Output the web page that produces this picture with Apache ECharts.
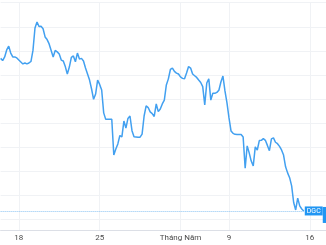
<!DOCTYPE html>
<html>
<head>
<meta charset="utf-8">
<script src="https://cdn.jsdelivr.net/npm/echarts@6/dist/echarts.min.js"></script>
<style>html,body{margin:0;padding:0;background:#fff;}#c{width:326px;height:245px;}</style>
</head>
<body>
<div id="c"></div>
<script>
const tradingDays = ['14/4','15/4','18/4','19/4','20/4','21/4','22/4','25/4','26/4','27/4','28/4','29/4','4/5','5/5','6/5','9/5','10/5','11/5','12/5','13/5','16/5','17/5'];
const slotTimes = ['09:00','09:30','10:00','10:30','11:00','13:00','13:30','14:00'];
const tickDays = ['18/4','25/4','4/5','9/5','16/5'];
const tickLabels = ['18','25','Tháng Năm','9','16'];
const symbolName = 'DGC';
const prices = [
216.9,216.0,217.5,220.4,222.0,219.1,217.5,217.5,217.1,216.2,
215.4,214.6,215.0,214.6,215.0,215.6,220.2,229.5,232.0,230.1,
230.2,229.2,225.8,224.7,222.9,220.2,217.5,220.2,219.6,218.7,
216.2,215.8,213.5,210.4,213.3,217.3,217.9,215.5,219.1,216.6,
216.9,215.8,212.9,210.4,207.9,204.2,199.9,202.1,207.9,206.1,
203.8,194.3,191.6,191.6,191.6,191.6,176.8,179.3,181.4,184.9,
184.3,190.9,188.0,192.0,193.0,186.9,184.4,184.3,184.2,184.2,
185.5,193.0,197.2,196.5,194.7,194.0,192.8,198.0,194.8,195.9,
198.0,199.6,205.9,208.4,212.3,212.9,211.5,210.8,210.4,209.2,
208.6,208.4,210.8,213.5,212.9,210.4,209.7,209.0,207.9,206.9,
205.2,197.6,206.7,208.4,199.6,202.4,202.4,202.8,203.7,207.1,
209.6,203.4,198.4,192.2,186.8,185.8,185.4,185.3,185.3,185.3,
184.3,171.3,180.6,177.7,174.3,172.3,180.2,178.9,182.8,182.9,
183.6,182.9,180.8,178.6,183.5,183.9,182.1,181.5,180.4,178.9,
176.8,171.9,169.4,167.4,164.0,157.1,154.0,158.9,155.7,154.4,
153.6
];

const allSlots = [];
tradingDays.forEach(d => slotTimes.forEach(t => allSlots.push(d + ' ' + t)));
const categories = allSlots.slice(7, 7 + 162);
const lastIdx = prices.length - 1;
const lastVal = prices[lastIdx];

const isTick = (idx, value) => {
  const parts = String(value).split(' ');
  return parts[1] === slotTimes[0] && tickDays.indexOf(parts[0]) >= 0;
};

const chart = echarts.init(document.getElementById('c'), null, {renderer: 'canvas'});
chart.setOption({
  animation: false,
  backgroundColor: '#ffffff',
  grid: {left: 0.63, right: 0, top: 2.7, bottom: 15, containLabel: false},
  xAxis: {
    type: 'category',
    data: categories,
    boundaryGap: false,
    axisLine: {show: true, lineStyle: {color: '#dcdfe6', width: 1}},
    axisTick: {show: false},
    axisLabel: {
      interval: isTick,
      formatter: v => tickLabels[tickDays.indexOf(String(v).split(' ')[0])],
      color: '#4a4a4a', fontSize: 8, fontFamily: 'Roboto', margin: 4
    },
    splitLine: {show: true, interval: isTick, lineStyle: {color: '#f0f2f5', width: 1}}
  },
  yAxis: {
    type: 'value',
    position: 'right',
    min: 145.7, max: 240,
    minInterval: 10, maxInterval: 10,
    axisLine: {show: false}, axisTick: {show: false}, axisLabel: {show: false},
    splitLine: {show: true, lineStyle: {color: '#f0f2f5', width: 1}}
  },
  series: [{
    type: 'line',
    data: prices,
    symbol: 'none',
    lineStyle: {color: '#42a0f0', width: 1.5},
    markLine: {
      silent: true,
      symbol: 'none',
      lineStyle: {color: '#8cc4f3', type: 'dotted', width: 1},
      label: {
        show: true, position: 'end', formatter: symbolName, distance: 1,
        color: '#ffffff', backgroundColor: '#2196f3', fontSize: 7,
        fontFamily: 'Roboto', padding: [1, 2, 1, 2], lineHeight: 7
      },
      data: [[{coord: [0, lastVal]}, {coord: [lastIdx, lastVal]}]]
    },
    markPoint: {
      silent: true,
      symbol: 'rect',
      symbolSize: [20, 16],
      symbolOffset: [29, 4],
      itemStyle: {color: '#2196f3'},
      label: {show: false},
      data: [{coord: [lastIdx, lastVal]}]
    }
  }]
});
</script>
</body>
</html>
